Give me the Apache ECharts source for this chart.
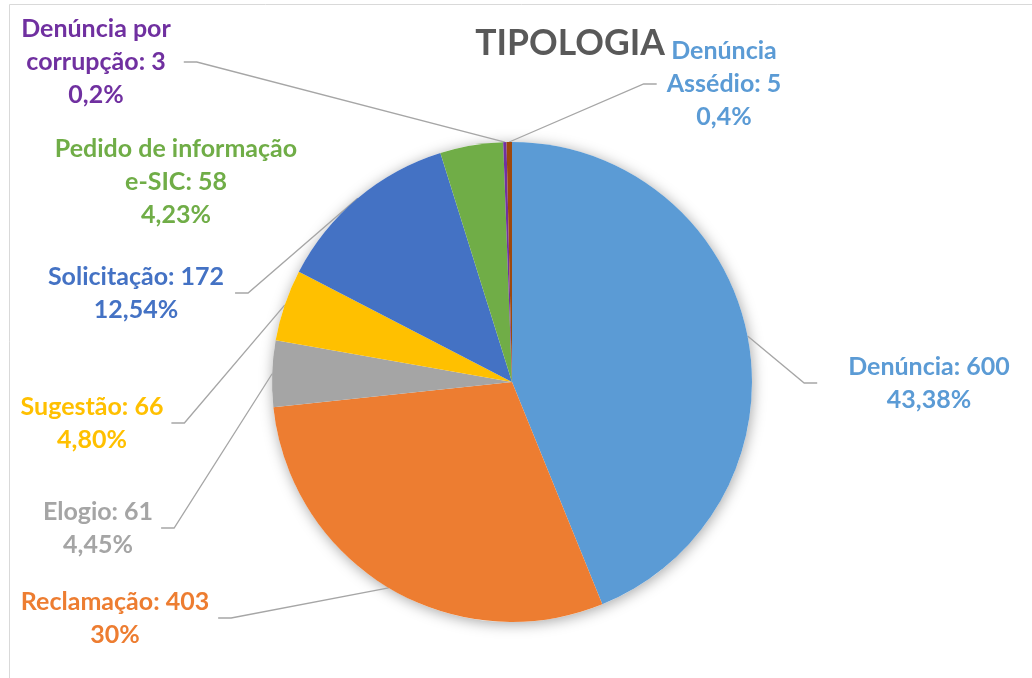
<!DOCTYPE html>
<html>
<head>
<meta charset="utf-8">
<script src="https://cdn.jsdelivr.net/npm/echarts@6/dist/echarts.min.js"></script>
<style>
html,body{margin:0;padding:0;background:#fff;}
#chart{width:1032px;height:678px;}
</style>
</head>
<body>
<div id="chart"></div>
<script>
// ---- data ----
var categories = ['Denúncia', 'Reclamação', 'Elogio', 'Sugestão', 'Solicitação',
  'Pedido de informação e-SIC', 'Denúncia por corrupção', 'Denúncia Assédio'];
var labelNames = ['Denúncia', 'Reclamação', 'Elogio', 'Sugestão', 'Solicitação',
  'Pedido de informação\ne-SIC', 'Denúncia por\ncorrupção', 'Denúncia\nAssédio'];
var values = [600, 403, 61, 66, 172, 58, 3, 5];
var percentLabels = ['43,38%', '30%', '4,45%', '4,80%', '12,54%', '4,23%', '0,2%', '0,4%'];
var sliceColors = ['#5B9BD5', '#ED7D31', '#A5A5A5', '#FFC000', '#4472C4', '#70AD47', '#7030A0', '#9E480E'];
var labelColors = ['#5B9BD5', '#ED7D31', '#A5A5A5', '#FFC000', '#4472C4', '#70AD47', '#7030A0', '#5B9BD5'];

// ---- label layout (positions only) ----
var labelPos = [
  {x: 929, y: 383, side: 'right', gap: 31, line: true},
  {x: 115, y: 618, side: 'left', gap: 9, line: true},
  {x: 98, y: 528, side: 'left', gap: 8, line: true},
  {x: 92, y: 423, side: 'left', gap: 8, line: true},
  {x: 136, y: 293, side: 'left', gap: 11, line: true},
  {x: 176, y: 182, side: 'left', gap: 10, line: false},
  {x: 96, y: 62, side: 'left', gap: 13, line: true},
  {x: 724, y: 84, side: 'right', gap: 10, line: true}
];

var FONT = 'Lato, "Open Sans", sans-serif';

var chart = echarts.init(document.getElementById('chart'), null, {renderer: 'canvas'});

var pieData = values.map(function (v, i) {
  return {
    name: categories[i],
    value: v,
    itemStyle: {color: sliceColors[i]},
    label: {color: labelColors[i]},
    labelLine: {show: labelPos[i].line}
  };
});

var option = {
  backgroundColor: '#ffffff',
  animation: false,
  title: {
    text: 'TIPOLOGIA',
    left: 565,
    top: 39,
    textAlign: 'center',
    textVerticalAlign: 'middle',
    textStyle: {fontFamily: FONT, fontWeight: 'bold', fontSize: 35.5, color: '#595959'}
  },
  graphic: [{
    type: 'rect',
    shape: {x: 9.5, y: 4.5, width: 1100, height: 800},
    style: {fill: 'none', stroke: '#d9d9d9', lineWidth: 1},
    silent: true,
    z: -10
  }],
  series: [
    {
      type: 'pie',
      silent: true,
      center: [512, 382],
      radius: 240,
      z: 1,
      label: {show: false},
      labelLine: {show: false},
      itemStyle: {color: '#ffffff', shadowBlur: 14, shadowColor: 'rgba(0,0,0,0.35)', shadowOffsetX: 1, shadowOffsetY: 2},
      data: [{value: 1, name: ''}]
    },
    {
      type: 'pie',
      center: [512, 382],
      radius: 240,
      startAngle: 90,
      clockwise: true,
      z: 2,
      avoidLabelOverlap: false,
      minShowLabelAngle: 0,
      itemStyle: {borderWidth: 0},
      label: {
        show: true,
        position: 'outside',
        alignTo: 'none',
        fontFamily: FONT,
        fontWeight: 'bold',
        fontSize: 25,
        lineHeight: 33,
        align: 'center',
        formatter: function (p) {
          return labelNames[p.dataIndex] + ': ' + values[p.dataIndex] + '\n' + percentLabels[p.dataIndex];
        }
      },
      labelLine: {
        show: true,
        length: 20,
        length2: 13,
        lineStyle: {color: '#a6a6a6', width: 1.3}
      },
      labelLayout: function (p) {
        var L = labelPos[p.dataIndex];
        var w = p.labelRect.width;
        var res = {x: L.x, y: L.y, align: 'center', verticalAlign: 'middle'};
        if (L.line && p.labelLinePoints && p.labelLinePoints.length) {
          var start = p.labelLinePoints[0];
          var endX = L.side === 'right' ? L.x - w / 2 - L.gap : L.x + w / 2 + L.gap;
          var elbowX = L.side === 'right' ? endX - 13 : endX + 13;
          res.labelLinePoints = [[start[0], start[1]], [elbowX, L.y], [endX, L.y]];
        }
        return res;
      },
      data: pieData
    }
  ]
};
chart.setOption(option);
</script>
</body>
</html>
